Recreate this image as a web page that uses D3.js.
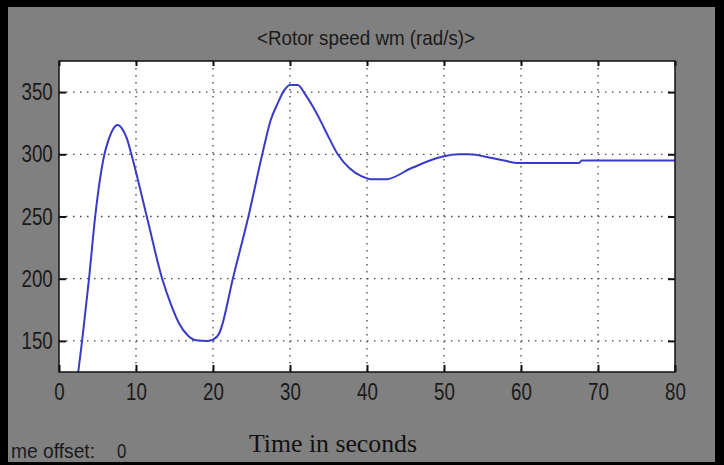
<!DOCTYPE html>
<html>
<head>
<meta charset="utf-8">
<script src="https://cdn.jsdelivr.net/npm/d3@7"></script>
<style>
  body { margin: 0; background: #000; }
  svg { display: block; }
</style>
</head>
<body>
<script>
// time (s) and rotor speed (rad/s)
var tempo = [2.5, 3.0, 3.9, 4.7, 5.9, 6.4, 7.0, 7.6, 8.2, 8.8, 9.4, 11.4, 13.4, 14.5, 15.6, 16.7, 17.8,
             19.3, 20.0, 20.8, 21.2, 22.5, 24.6, 26.4, 27.5, 28.4, 29.3, 30.0, 31.0, 32.0, 33.0, 34.0,
             35.0, 36.2, 37.7, 39.4, 40.5, 42.5, 45.8, 49.7, 51.9, 53.2, 56.2, 57.8, 59.7,
             67.5, 67.9, 80];
var velocidade = [125, 150, 200, 250, 300, 311, 320, 323.5, 320.5, 313, 300, 250, 200, 180, 164, 154.5, 150.5,
                  150, 151, 156, 163, 198, 250, 300, 327.6, 341, 352, 355.8, 355.8, 348, 338, 326.5,
                  314, 300, 289, 282, 280, 280, 289, 298, 300, 300, 297, 295, 293,
                  293, 295, 295];

var ticksX = [0, 10, 20, 30, 40, 50, 60, 70, 80];
var ticksY = [150, 200, 250, 300, 350];
var titulo = "<Rotor speed wm (rad/s)>";
var rotuloX = "Time in seconds";

var svgW = 724, svgH = 465;
var esq = 59, dir = 675, topo = 61, base = 372;
var fonteEstreita = "'Liberation Sans', Arial, sans-serif";

var svg = d3.select("body").append("svg")
            .attr("width", svgW)
            .attr("height", svgH);

// moldura cinza
svg.append("rect")
   .attr("x", 8).attr("y", 7)
   .attr("width", 707).attr("height", 455)
   .attr("fill", "#808080");

var xScale = d3.scaleLinear().domain([0, 80]).range([esq, dir]);
var yScale = d3.scaleLinear().domain([125, 375]).range([base, topo]);

svg.append("rect")
   .attr("x", esq).attr("y", topo)
   .attr("width", dir - esq).attr("height", base - topo)
   .attr("fill", "#fff");

// grade pontilhada
svg.append("g").selectAll("line")
   .data(ticksX.slice(1, -1))
   .enter().append("line")
   .attr("x1", function (d) { return xScale(d); })
   .attr("x2", function (d) { return xScale(d); })
   .attr("y1", topo).attr("y2", base)
   .attr("stroke", "#444")
   .attr("stroke-width", 1.3)
   .attr("stroke-dasharray", "1.5,5.5");

svg.append("g").selectAll("line")
   .data(ticksY)
   .enter().append("line")
   .attr("y1", function (d) { return yScale(d); })
   .attr("y2", function (d) { return yScale(d); })
   .attr("x1", esq).attr("x2", dir)
   .attr("stroke", "#444")
   .attr("stroke-width", 1.3)
   .attr("stroke-dasharray", "1.5,5.5");

// eixos
var xAxis = d3.axisBottom(xScale).tickValues(ticksX).tickSizeInner(-7).tickSizeOuter(0).tickPadding(11);
var yAxis = d3.axisLeft(yScale).tickValues(ticksY).tickSizeInner(-7).tickSizeOuter(0).tickPadding(8);
var xTop = d3.axisTop(xScale).tickValues(ticksX).tickSizeInner(-5).tickSizeOuter(0).tickFormat("");
var yRight = d3.axisRight(yScale).tickValues(ticksY).tickSizeInner(-7).tickSizeOuter(0).tickFormat("");

function estilo(g) {
  g.select(".domain").remove();
  g.selectAll(".tick line").attr("stroke", "#111").attr("stroke-width", 2);
  g.selectAll(".tick text")
   .attr("fill", "#1a1a1a")
   .attr("font-family", fonteEstreita)
   .attr("font-size", "24px")
   .attr("transform", "scale(0.78,1)");
}

svg.append("g").attr("transform", "translate(0," + base + ")").call(xAxis).call(estilo);
svg.append("g").attr("transform", "translate(" + esq + ",0)").call(yAxis).call(estilo);
svg.append("g").attr("transform", "translate(0," + topo + ")").call(xTop).call(estilo);
svg.append("g").attr("transform", "translate(" + dir + ",0)").call(yRight).call(estilo);

// curva
var pontos = tempo.map(function (t, i) { return [t, velocidade[i]]; });
var linha = d3.line()
              .x(function (d) { return xScale(d[0]); })
              .y(function (d) { return yScale(d[1]); })
              .curve(d3.curveMonotoneX);

svg.append("path")
   .datum(pontos)
   .attr("d", linha)
   .attr("fill", "none")
   .attr("stroke", "#3a3ac8")
   .attr("stroke-width", 2);

svg.append("rect")
   .attr("x", esq).attr("y", topo)
   .attr("width", dir - esq).attr("height", base - topo)
   .attr("fill", "none")
   .attr("stroke", "#111")
   .attr("stroke-width", 1.5);

// textos
svg.append("text")
   .attr("x", 257).attr("y", 45)
   .attr("textLength", 218)
   .attr("lengthAdjust", "spacingAndGlyphs")
   .attr("font-family", fonteEstreita)
   .attr("font-size", "21px")
   .attr("fill", "#1a1a1a")
   .text(titulo);

svg.append("text")
   .attr("x", 249).attr("y", 452)
   .attr("textLength", 168)
   .attr("lengthAdjust", "spacingAndGlyphs")
   .attr("font-family", "'Liberation Serif', 'Times New Roman', serif")
   .attr("font-size", "26px")
   .attr("fill", "#111")
   .text(rotuloX);

svg.append("text")
   .attr("x", 11).attr("y", 458)
   .attr("textLength", 84)
   .attr("lengthAdjust", "spacingAndGlyphs")
   .attr("font-family", fonteEstreita)
   .attr("font-size", "21px")
   .attr("fill", "#1a1a1a")
   .text("me offset:");

svg.append("text")
   .attr("x", 115).attr("y", 458)
   .attr("font-family", fonteEstreita)
   .attr("font-size", "21px")
   .attr("transform", "translate(25,0) scale(0.8,1)")
   .attr("fill", "#1a1a1a")
   .text("0");
</script>
</body>
</html>
